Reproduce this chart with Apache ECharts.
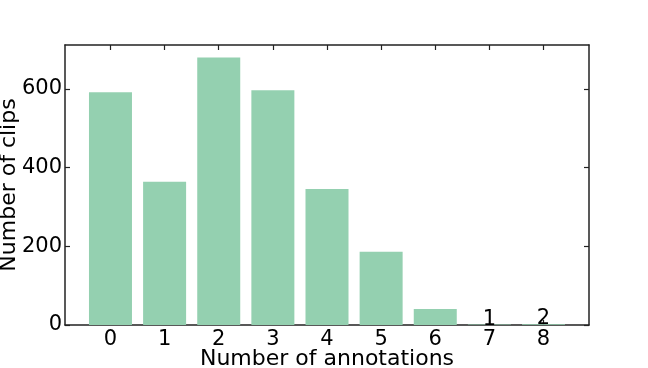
<!DOCTYPE html>
<html>
<head>
<meta charset="utf-8">
<script src="https://cdn.jsdelivr.net/npm/echarts@6/dist/echarts.min.js"></script>
<style>
html, body { margin: 0; padding: 0; background: #fff; }
#chart { width: 648px; height: 368px; }
</style>
</head>
<body>
<div id="chart"></div>
<script>
// data
var annotations = [0, 1, 2, 3, 4, 5, 6, 7, 8];
var clipCounts = [592, 364, 680, 597, 346, 186, 41, 1, 2];
var labelledBars = [7, 8];   // bars too small to see, value written above
var yTicks = [0, 200, 400, 600];

var font = 'DejaVu Sans';
var axisColor = '#222';

var chart = echarts.init(document.getElementById('chart'));

var barData = annotations.map(function (a, i) {
    var item = { value: [a, clipCounts[i]] };
    if (labelledBars.indexOf(a) >= 0) {
        item.label = { show: true };
    }
    return item;
});

var frameX = {
    type: 'value',
    min: -0.84,
    max: 8.84,
    axisLine: { show: true, onZero: false, lineStyle: { color: axisColor, width: 1.5 } },
    axisTick: { show: true, inside: true, length: 5, customValues: annotations, lineStyle: { color: axisColor, width: 1.2 } },
    splitLine: { show: false }
};
var frameY = {
    type: 'value',
    min: 0,
    max: 712,
    axisLine: { show: true, onZero: false, lineStyle: { color: axisColor, width: 1.5 } },
    axisTick: { show: true, inside: true, length: 5, customValues: yTicks, lineStyle: { color: axisColor, width: 1.2 } },
    splitLine: { show: false }
};

chart.setOption({
    animation: false,
    grid: { left: 65, right: 59, top: 45, bottom: 43, containLabel: false, outerBoundsMode: 'none' },
    xAxis: [
        Object.assign({}, frameX, {
            position: 'bottom',
            name: 'Number of annotations',
            nameLocation: 'middle',
            nameGap: 23,
            nameMoveOverlap: false,
            nameTextStyle: { fontFamily: font, fontSize: 22, color: '#000' },
            axisLabel: { customValues: annotations, margin: 4, fontFamily: font, fontSize: 21, color: '#000' }
        }),
        Object.assign({}, frameX, {
            position: 'top',
            axisLabel: { show: false }
        })
    ],
    yAxis: [
        Object.assign({}, frameY, {
            position: 'left',
            name: 'Number of clips',
            nameLocation: 'middle',
            nameGap: 45,
            nameMoveOverlap: false,
            nameTextStyle: { fontFamily: font, fontSize: 22, color: '#000' },
            axisLabel: { customValues: yTicks, margin: 3, fontFamily: font, fontSize: 21, color: '#000' }
        }),
        Object.assign({}, frameY, {
            position: 'right',
            axisLabel: { show: false }
        })
    ],
    series: [{
        type: 'bar',
        xAxisIndex: 0,
        yAxisIndex: 0,
        barWidth: 43,
        itemStyle: { color: '#94d0b0' },
        label: {
            show: false,
            position: 'top',
            distance: -5,
            fontFamily: font,
            fontSize: 21,
            color: '#000',
            formatter: function (p) { return p.value[1]; }
        },
        data: barData
    }]
});
</script>
</body>
</html>
